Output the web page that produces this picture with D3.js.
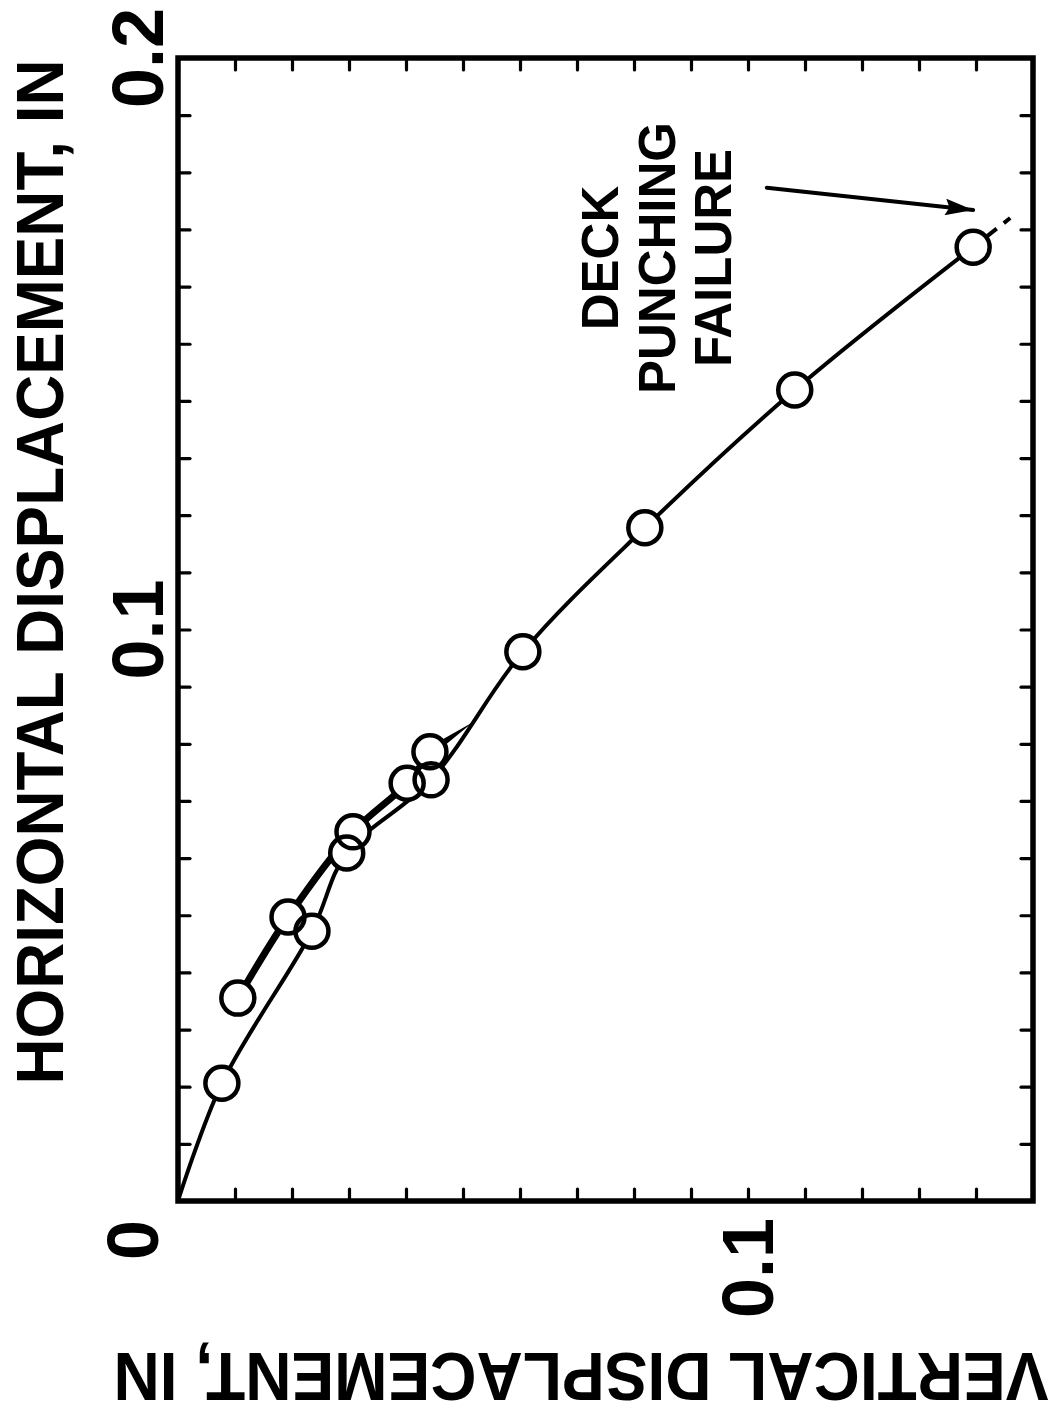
<!DOCTYPE html>
<html>
<head>
<meta charset="utf-8">
<script src="https://cdn.jsdelivr.net/npm/d3@7"></script>
<style>
  body { margin: 0; background: #fff; }
  text { font-family: "Liberation Sans", Arial, Helvetica, sans-serif; font-weight: bold; fill: #000; }
</style>
</head>
<body>
<div id="chart"></div>
<script>
// vertical displacement (in) -> runs along the page width
// horizontal displacement (in) -> runs up the page
var seriesA_vert  = [0, 0.0077, 0.0235, 0.0296, 0.0444, 0.0605, 0.0819, 0.1082, 0.1395];
var seriesA_horiz = [0, 0.0206, 0.0472, 0.0609, 0.0737, 0.0961, 0.1178, 0.1419, 0.1669];
var seriesA_tail  = [0.1460, 0.1720];   // dashed extension past last point

var seriesB_vert  = [0.0105, 0.0193, 0.0307, 0.0402, 0.0442];
var seriesB_horiz = [0.0355, 0.0497, 0.0646, 0.0731, 0.0786];
var seriesB_tail  = [0.0518, 0.0838];   // tapered end of thick line

var vertTicks  = d3.range(0, 0.1501, 0.01);
var horizTicks = d3.range(0, 0.2001, 0.01);
var vertLabels  = [0.1];
var horizLabels = [0.1, 0.2];

var noteLines = ["DECK", "PUNCHING", "FAILURE"];
var arrowFrom = [0.1033, 0.1773];
var arrowTo   = [0.1395, 0.1734];

var svg_width = 1060, svg_height = 1417;
var plot_left = 178, plot_top = 58, plot_right = 1033, plot_bottom = 1201;

var svg = d3.select("#chart").append("svg")
            .attr("width", svg_width)
            .attr("height", svg_height);

var x = d3.scaleLinear().domain([0, 0.15]).range([plot_left, plot_right]);
var y = d3.scaleLinear().domain([0, 0.2]).range([plot_bottom, plot_top]);

var tickLen = 12;

// ticks on all four sides, pointing in
function styleAxis(g){
	g.select(".domain").remove();
	g.selectAll(".tick line")
	 .attr("stroke", "#000")
	 .attr("stroke-width", 3.2)
	 .attr("stroke-linecap", "round");
	g.selectAll(".tick text").remove();
}

svg.append("g").attr("transform", "translate(0," + plot_bottom + ")")
   .call(d3.axisBottom(x).tickValues(vertTicks).tickSize(-tickLen).tickFormat(""))
   .call(styleAxis);
svg.append("g").attr("transform", "translate(0," + plot_top + ")")
   .call(d3.axisTop(x).tickValues(vertTicks).tickSize(-tickLen).tickFormat(""))
   .call(styleAxis);
svg.append("g").attr("transform", "translate(" + plot_left + ",0)")
   .call(d3.axisLeft(y).tickValues(horizTicks).tickSize(-tickLen).tickFormat(""))
   .call(styleAxis);
svg.append("g").attr("transform", "translate(" + plot_right + ",0)")
   .call(d3.axisRight(y).tickValues(horizTicks).tickSize(-tickLen).tickFormat(""))
   .call(styleAxis);

svg.append("rect")
   .attr("x", plot_left).attr("y", plot_top)
   .attr("width", plot_right - plot_left).attr("height", plot_bottom - plot_top)
   .attr("fill", "none")
   .attr("stroke", "#000")
   .attr("stroke-width", 5.5);

// tick labels, all turned on their side
svg.selectAll(".hlabel")
   .data(horizLabels)
   .enter()
   .append("text")
   .attr("class", "hlabel")
   .attr("transform", function(d){ return "translate(163," + y(d) + ") rotate(-90)"; })
   .attr("text-anchor", "middle")
   .attr("font-size", 72)
   .text(function(d){ return d3.format(".1f")(d); });

svg.selectAll(".vlabel")
   .data(vertLabels)
   .enter()
   .append("text")
   .attr("class", "vlabel")
   .attr("transform", function(d){ return "translate(" + (x(d) + 25) + ",1268) rotate(-90)"; })
   .attr("text-anchor", "middle")
   .attr("font-size", 72)
   .text(function(d){ return d3.format(".1f")(d); });

svg.append("text")
   .attr("transform", "translate(158,1240) rotate(-90)")
   .attr("text-anchor", "middle")
   .attr("font-size", 72)
   .text("0");

// axis titles
svg.append("text")
   .attr("transform", "translate(63,572) rotate(-90)")
   .attr("text-anchor", "middle")
   .attr("font-size", 66)
   .attr("textLength", 1025)
   .attr("lengthAdjust", "spacingAndGlyphs")
   .text("HORIZONTAL DISPLACEMENT, IN");

svg.append("text")
   .attr("transform", "translate(581,1353) rotate(180)")
   .attr("text-anchor", "middle")
   .attr("font-size", 68)
   .attr("textLength", 935)
   .attr("lengthAdjust", "spacingAndGlyphs")
   .text("VERTICAL DISPLACEMENT, IN");

// curves
var ptsA = seriesA_vert.map(function(v, i){ return [v, seriesA_horiz[i]]; });
var ptsB = seriesB_vert.map(function(v, i){ return [v, seriesB_horiz[i]]; });

var line = d3.line()
             .x(function(d){ return x(d[0]); })
             .y(function(d){ return y(d[1]); })
             .curve(d3.curveCatmullRom.alpha(0.5));

var plot_g = svg.append("g");

plot_g.append("path")
      .datum(ptsA)
      .attr("d", line)
      .attr("fill", "none")
      .attr("stroke", "#000")
      .attr("stroke-width", 4);

var lastA = ptsA[ptsA.length - 1];
plot_g.append("path")
      .datum([lastA, seriesA_tail])
      .attr("d", d3.line().x(function(d){ return x(d[0]); }).y(function(d){ return y(d[1]); }))
      .attr("fill", "none")
      .attr("stroke", "#000")
      .attr("stroke-width", 4)
      .attr("stroke-dasharray", "30,9,9,100");

plot_g.append("path")
      .datum(ptsB)
      .attr("d", line)
      .attr("fill", "none")
      .attr("stroke", "#000")
      .attr("stroke-width", 7);

// taper on the end of the thick line
var lastB = ptsB[ptsB.length - 1];
var bx = x(lastB[0]), by = y(lastB[1]);
var tx = x(seriesB_tail[0]), ty = y(seriesB_tail[1]);
var len = Math.sqrt((tx - bx) * (tx - bx) + (ty - by) * (ty - by));
var nx = -(ty - by) / len * 4.5, ny = (tx - bx) / len * 4.5;
plot_g.append("polygon")
      .attr("points", [[bx + nx, by + ny], [tx, ty], [bx - nx, by - ny]].map(function(p){ return p.join(","); }).join(" "))
      .attr("fill", "#000");

// markers: white fill first, outlines on top so overlaps show both rings
var marks = ptsA.slice(1).concat(ptsB);

plot_g.selectAll(".m_fill")
      .data(marks)
      .enter()
      .append("circle")
      .attr("class", "m_fill")
      .attr("cx", function(d){ return x(d[0]); })
      .attr("cy", function(d){ return y(d[1]); })
      .attr("r", 16.5)
      .attr("fill", "#fff");

plot_g.selectAll(".m_ring")
      .data(marks)
      .enter()
      .append("circle")
      .attr("class", "m_ring")
      .attr("cx", function(d){ return x(d[0]); })
      .attr("cy", function(d){ return y(d[1]); })
      .attr("r", 16.5)
      .attr("fill", "none")
      .attr("stroke", "#000")
      .attr("stroke-width", 4.5);

// annotation
svg.append("defs").append("marker")
   .attr("id", "head")
   .attr("viewBox", "0 0 10 6")
   .attr("refX", 10).attr("refY", 3)
   .attr("markerWidth", 7).attr("markerHeight", 4.2)
   .attr("markerUnits", "strokeWidth")
   .attr("orient", "auto")
   .append("path")
   .attr("d", "M0,0 L10,3 L0,6 L1.5,3 Z")
   .attr("fill", "#000");

svg.append("line")
   .attr("x1", x(arrowFrom[0])).attr("y1", y(arrowFrom[1]))
   .attr("x2", x(arrowTo[0])).attr("y2", y(arrowTo[1]))
   .attr("stroke", "#000")
   .attr("stroke-width", 4)
   .attr("stroke-linecap", "round")
   .attr("marker-end", "url(#head)");

svg.selectAll(".note")
   .data(noteLines)
   .enter()
   .append("text")
   .attr("class", "note")
   .attr("transform", function(d, i){ return "translate(" + (618 + i * 56.5) + ",258) rotate(-90)"; })
   .attr("text-anchor", "middle")
   .attr("font-size", 51)
   .text(function(d){ return d; });
</script>
</body>
</html>
